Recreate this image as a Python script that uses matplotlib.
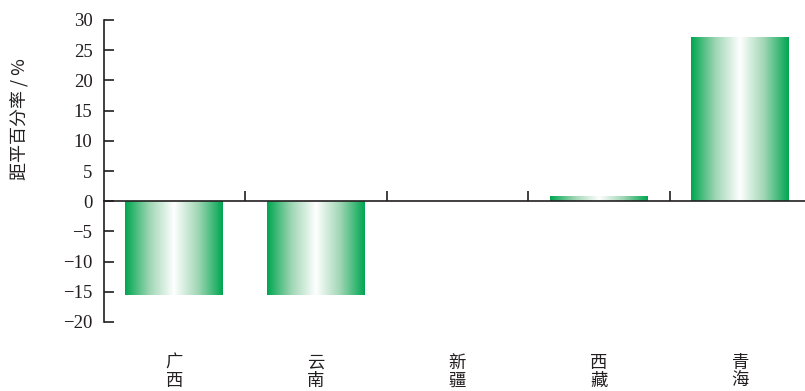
import numpy as np
import matplotlib
matplotlib.use("Agg")
import matplotlib.pyplot as plt
from matplotlib.colors import LinearSegmentedColormap
from matplotlib import transforms

categories = ["广\n西", "云\n南", "新\n疆", "西\n藏", "青\n海"]
values = [-15.5, -15.5, 0.0, 0.7, 27.0]
yticks = [30, 25, 20, 15, 10, 5, 0, -5, -10, -15, -20]
ylabel = "距平百分率 / %"

W, H = 805, 391
fig = plt.figure(figsize=(W / 100, H / 100), dpi=100)
ax = fig.add_axes([103.5 / W, 69 / H, (811 - 103.5) / W, 302 / H])
ax.set_xlim(-0.5, len(categories) - 0.5)
ax.set_ylim(-20, 30)

green = "#00a651"
cmap = LinearSegmentedColormap.from_list("g", [green, "#9fd6b4", "#ffffff", "#9fd6b4", green])
grad = np.linspace(0, 1, 256).reshape(1, -1)
bw = 0.69
for i, v in enumerate(values):
    if v == 0:
        continue
    y0, y1 = (0, v) if v > 0 else (v, 0)
    ax.imshow(grad, cmap=cmap, aspect="auto", extent=(i - bw / 2, i + bw / 2, y0, y1),
              interpolation="bilinear", zorder=1)
ax.set_xlim(-0.5, len(categories) - 0.5)
ax.set_ylim(-20, 30)

for s in ["top", "right"]:
    ax.spines[s].set_visible(False)
ax.spines["bottom"].set_position(("data", 0))
ax.spines["bottom"].set_zorder(3)
for s in ["left", "bottom"]:
    ax.spines[s].set_linewidth(1.2)
    ax.spines[s].set_color("#231f20")

ax.set_yticks(yticks)
ax.set_yticklabels([str(t).replace("-", "\u2212") for t in yticks],
                   fontfamily="Liberation Serif", fontsize=13.5, color="#231f20")
ax.tick_params(axis="y", direction="in", length=7, width=1.2, color="#231f20", pad=8)

ax.set_xticks([i + 0.5 for i in range(len(categories) - 1)])
ax.set_xticklabels([])
ax.tick_params(axis="x", direction="in", length=7, width=1.2, color="#231f20")

trans = transforms.blended_transform_factory(ax.transData, fig.transFigure)
for i, c in enumerate(categories):
    ax.text(i, 1 - 354 / H, c, transform=trans, ha="center", va="top",
            fontfamily=["Noto Sans CJK SC", "DejaVu Sans"], fontsize=12.5,
            linespacing=1.0, color="#231f20")

fig.text(20 / W, 1 - 119 / H, ylabel, rotation=90, ha="center", va="center",
         fontfamily=["Noto Sans CJK SC", "DejaVu Sans"], fontsize=13, color="#231f20")

fig.savefig("out.png", dpi=100)
